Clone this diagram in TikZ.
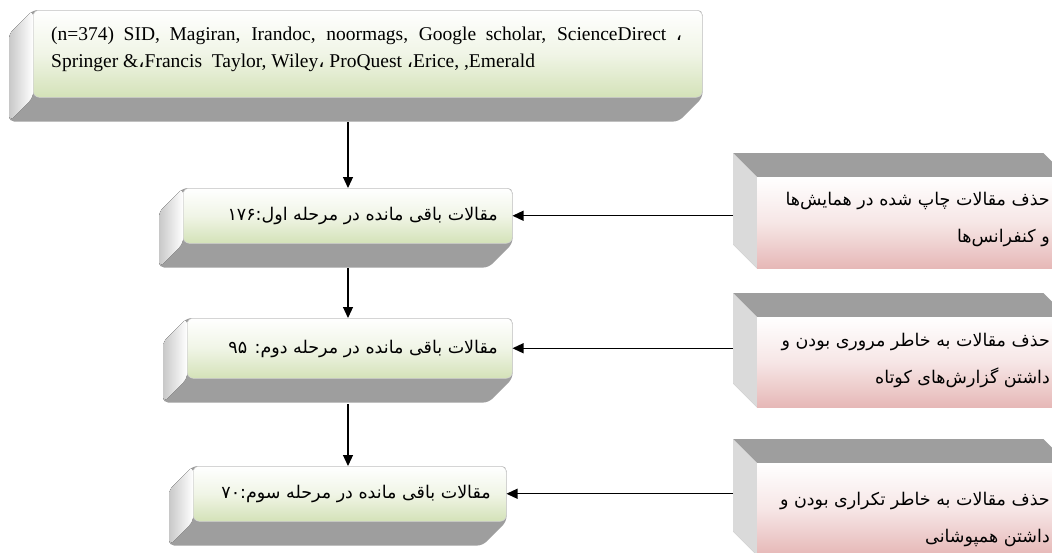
\documentclass[tikz,border=0pt]{standalone}
\usepackage{fontspec}
\setmainfont{Liberation Serif}
\newfontfamily\fa[Script=Arabic]{DejaVu Sans}
\TeXXeTstate=1
\usetikzlibrary{arrows.meta,calc,backgrounds}
\definecolor{grnbot}{RGB}{212,226,184}
\definecolor{pinkbot}{RGB}{230,184,183}
\definecolor{extr}{RGB}{158,158,158}
\definecolor{sideg}{RGB}{200,200,200}
\definecolor{sider}{RGB}{218,218,218}
\tikzset{
  greenface/.style={draw=gray!35, line width=0.5pt, rounded corners=6pt, top color=white, bottom color=grnbot, middle color=grnbot!35!white, inner sep=0pt, anchor=north west},
  pinkface/.style={top color=white, bottom color=pinkbot, middle color=pinkbot!35!white, inner sep=0pt, anchor=north west},
  fatext/.style={font=\fa\fontsize{17.5}{37}\selectfont, inner sep=0pt, align=right},
  entext/.style={font=\fontsize{19.5}{27}\selectfont, inner sep=0pt, anchor=base west},
  arr/.style={line width=1.2pt, -{Triangle[length=11pt,width=10pt]}},
}
\newcommand\ExtDL[1]{%
  \begin{pgfonlayer}{background}
  \fill[extr, rounded corners=5pt] (#1.north west) -- (#1.north east) -- (#1.south east) -- ($(#1.south east)+(-24,24)$) -- ($(#1.south west)+(-24,24)$) -- ($(#1.north west)+(-24,24)$) -- cycle;
  \fill[left color=sideg, right color=white, rounded corners=5pt] (#1.north west) -- ($(#1.north west)+(-24,24)$) -- ($(#1.south west)+(-24,24)$) -- (#1.south west) -- cycle;
  \end{pgfonlayer}}
\newcommand\ExtUL[1]{%
  \begin{pgfonlayer}{background}
  \fill[extr] ($(#1.north west)+(-24,-24)$) -- ($(#1.north east)+(-24,-24)$) -- (#1.north east) -- (#1.south east) -- (#1.south west) -- ($(#1.south west)+(-24,-24)$) -- cycle;
  \fill[sider] ($(#1.north west)+(-24,-24)$) -- (#1.north west) -- (#1.south west) -- ($(#1.south west)+(-24,-24)$) -- cycle;
  \end{pgfonlayer}
  \coordinate (#1l) at ($(#1.west)+(-24,0)$);}
\begin{document}
\begin{tikzpicture}[x=1pt,y=-1pt]
\useasboundingbox (0,0) rectangle (1052,552);
% top box
\node[greenface, minimum width=669pt, minimum height=87pt] (top) at (33,10) {};
\ExtDL{top}
\node[entext] (t1) at (51,40) {\makebox[631pt][s]{(n=374) SID, Magiran, Irandoc, noormags, Google scholar, ScienceDirect {\fa ،}}};
\node[entext] (t2) at (51,67) {Springer \&{\fa ،}Francis\ \ Taylor, Wiley{\fa ،} ProQuest {\fa ،}Erice, ,Emerald};
% middle boxes
\node[greenface, minimum width=329pt, minimum height=55pt] (b1) at (183,188) {};
\ExtDL{b1}
\node[fatext, anchor=east] (b1t) at (498,216) {\beginR مقالات باقی مانده در مرحله اول:۱۷۶\endR};
\node[greenface, minimum width=325pt, minimum height=60pt] (b2) at (187,318) {};
\ExtDL{b2}
\node[fatext, anchor=east] (b2t) at (498,349) {\beginR مقالات باقی مانده در مرحله دوم: ۹۵\endR};
\node[greenface, minimum width=313pt, minimum height=55pt] (b3) at (193,466) {};
\ExtDL{b3}
\node[fatext, anchor=east] (b3t) at (491,494) {\beginR مقالات باقی مانده در مرحله سوم:۷۰\endR};
% right boxes
\node[pinkface, minimum width=310pt, minimum height=91pt] (r1) at (757,177) {};
\ExtUL{r1}
\node[fatext, anchor=east] (r1t) at (1050,219) {\beginR حذف مقالات چاپ شده در همایش‌ها\endR\\ \beginR و کنفرانس‌ها\endR};
\node[pinkface, minimum width=310pt, minimum height=90pt] (r2) at (757,317) {};
\ExtUL{r2}
\node[fatext, anchor=east] (r2t) at (1050,360) {\beginR حذف مقالات به خاطر مروری بودن و\endR\\ \beginR داشتن گزارش‌های کوتاه\endR};
\node[pinkface, minimum width=310pt, minimum height=92pt] (r3) at (757,463) {};
\ExtUL{r3}
\node[fatext, anchor=east] (r3t) at (1050,519) {\beginR حذف مقالات به خاطر تکراری بودن و\endR\\ \beginR داشتن همپوشانی\endR};
% connectors
\coordinate (s0) at (348,122);
\coordinate (s1) at (348,268);
\coordinate (s2) at (348,404);
\draw[arr] (s0) -- (s0 |- b1.north);
\draw[arr] (s1) -- (s1 |- b2.north);
\draw[arr] (s2) -- (s2 |- b3.north);
\draw[arr] (r1l |- b1.east) -- (b1.east);
\draw[arr] (r2l |- b2.east) -- (b2.east);
\draw[arr] (r3l |- b3.east) -- (b3.east);
\end{tikzpicture}
\end{document}
